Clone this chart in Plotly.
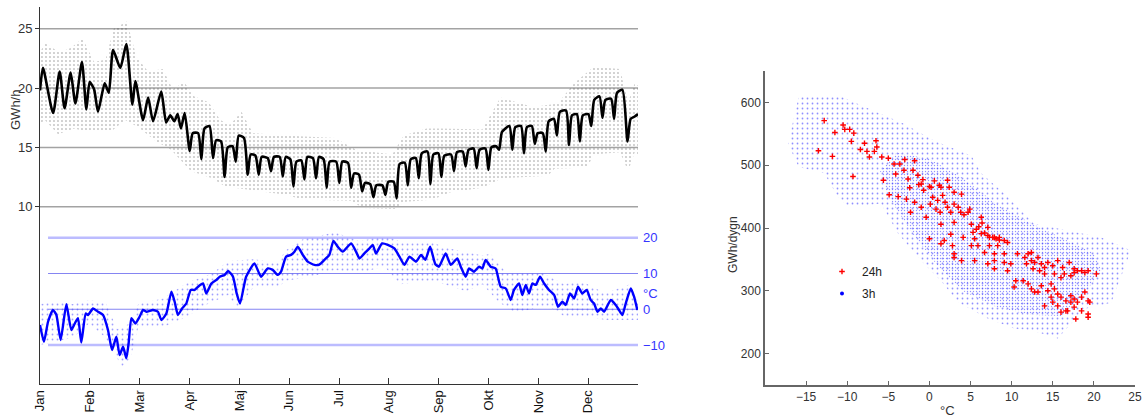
import plotly.graph_objects as go

W, H = 1142, 419
FONT = "Liberation Sans, Arial, sans-serif"

month_labels = ["Jan", "Feb", "Mar", "Apr", "Maj", "Jun", "Jul", "Aug", "Sep", "Okt", "Nov", "Dec"]

# ---- daily mean load, GWh/h (day of year, value) ----
load_day = [0, 1.8, 8, 12, 15, 18.7, 21.6, 25.6, 28.3, 30.3, 33, 35.4, 39.5, 42, 44.6, 49, 52.7,
            56.4, 58.2, 62.9, 66, 69, 74, 77, 79.5, 82, 84, 86, 88.3,
            91.4, 93.2, 96.5, 98.5, 100.4, 103.5, 105.6, 107.5, 110.5, 112.7, 114.6, 117.5,
            119.5, 121.3, 124.5, 126.8, 128.6, 131.5, 133.5, 135.3, 139, 141, 142.8, 146.3,
            148.2, 150, 152.8, 154.7, 156.5, 159.5, 161.4, 163.2, 166.6, 168.5, 170.3, 173.1,
            175, 176.8, 180.8, 182.7, 184.5, 188, 189.9, 191.7, 194.7, 196.6, 198.4, 201.6,
            203.5, 205.3, 209, 210.8, 212.6, 215.9, 217.7, 219.5, 222.7, 224.5, 226.3, 229.4,
            231.2, 233, 236.5, 238.3, 240.1, 243.2, 245, 246.8, 250.9, 252.7, 254.5, 258,
            259.8, 261.6, 264.7, 266.5, 268.3, 271.9, 273.7, 275.5, 278.4, 280.2, 282, 286.5,
            288.3, 290.1, 293.6, 295.4, 297.2, 300.2, 302, 303.8, 306.9, 308.7, 310.5, 313.7,
            315.5, 317.3, 321.1, 322.9, 324.7, 327.7, 329.5, 331.3, 334.7, 336.5, 338.3, 341.5,
            343.3, 345.1, 348.6, 350.4, 352.2, 355.5, 358.6, 360.5, 363, 365]
load_gwh = [19.8, 21.7, 17.9, 21.4, 18.3, 21.3, 18.7, 22.2, 18.2, 20.5, 19.9, 18.0, 20.4, 19.6,
            23.2, 21.7, 23.7, 18.6, 20.6, 17.3, 19.2, 17.2, 19.7, 17.1, 17.7, 17.2, 17.8, 16.6,
            17.9,
            14.7, 16.2, 16.2, 14.0, 16.6, 16.8, 14.1, 15.6, 15.5, 12.5, 15.0, 15.1,
            13.8, 16.0, 15.8, 12.7, 14.4, 14.3, 12.7, 14.2, 14.1, 13.0, 14.2, 14.2,
            12.55, 14.2, 14.0, 11.7, 13.8, 13.9, 12.3, 14.2, 14.1, 12.4, 14.2, 14.0,
            11.6, 13.8, 13.8, 12.0, 13.8, 13.7, 11.6, 12.8, 12.7, 11.3, 12.0, 11.9,
            10.8, 11.8, 11.8, 11.0, 12.1, 12.1, 10.7, 13.6, 13.7, 11.8, 14.0, 14.1,
            12.4, 14.5, 14.65, 11.9, 14.4, 14.5, 12.5, 14.3, 14.4, 13.0, 14.6, 14.65,
            13.4, 14.8, 14.9, 13.25, 14.8, 14.9, 13.1, 15.0, 15.1, 14.8, 16.3, 16.8,
            14.8, 16.7, 16.8, 14.5, 16.7, 16.8, 15.3, 16.2, 16.2, 14.65, 17.2, 17.4,
            16.0, 18.0, 18.1, 15.2, 17.7, 17.8, 15.5, 17.7, 17.8, 16.8, 19.0, 19.3,
            17.5, 19.0, 19.1, 17.4, 19.6, 19.85, 15.5, 17.4, 17.6, 17.8]

# ---- spread of hourly load values (upper / lower edge of the dot cloud) ----
load_hi_day = [0, 3, 12, 19, 26, 33, 40, 45, 53, 59, 66, 75, 81, 88, 94, 103, 110, 116, 123,
               130, 150, 180, 193, 215, 222, 236, 245, 270, 281, 301, 316, 326, 338, 354, 359,
               363, 365]
load_hi = [23.0, 23.8, 23.0, 23.4, 24.2, 22.2, 22.4, 25.0, 25.6, 22.6, 21.4, 21.6, 19.9, 20.5,
           19.3, 18.8, 17.3, 16.9, 18.0, 16.2, 16.0, 15.8, 14.8, 14.4, 16.0, 16.6, 16.6, 16.5,
           19.2, 18.4, 18.7, 20.4, 21.8, 21.6, 18.8, 20.4, 20.2]
load_lo_day = [0, 3, 11, 21, 29, 43, 52, 60, 71, 80, 92, 105, 113, 130, 150, 160, 190, 197,
               217, 222, 240, 250, 270, 282, 310, 314, 334, 338, 354, 359, 363, 365]
load_lo = [17.0, 17.3, 16.1, 16.6, 16.3, 16.3, 17.3, 16.7, 15.5, 14.8, 13.0, 12.4, 11.7, 11.4,
           11.0, 10.6, 10.5, 9.9, 9.8, 10.4, 10.6, 11.2, 11.6, 12.4, 12.6, 13.2, 13.3, 14.4,
           14.6, 13.0, 14.6, 14.4]

# ---- daily mean temperature, degC ----
temp_day = [0, 2.4, 4.9, 7.9, 10, 12.6, 16.1, 19.1, 21.2, 23.2, 25.2, 27.9, 29.3, 32.4, 35.4,
            38.5, 41.5, 44, 46.6, 48.6, 50.7, 52.7, 54.1, 55.8, 58.2, 60.8, 62.9, 64.9, 69, 72,
            74.1, 77.1, 80.2, 82.2, 84.2, 86.7, 89.3, 92, 94.4, 96.5, 99.5, 101.5, 104.6, 107.7,
            109.7, 112.7, 114.8, 117.8, 120, 122.1, 125.8, 130.9, 134.9, 139, 142, 145.1, 147.1,
            150.2, 153.2, 155.3, 157.3, 160.4, 163.4, 167.5, 170.5, 173.6, 176.6, 179.1, 181.7,
            184.8, 189.9, 192.9, 195, 198, 201.1, 203.1, 205.1, 208.8, 212.3, 216.3, 219.4,
            222.4, 225.5, 229.5, 232.6, 235.2, 238.1, 241.3, 243.5, 247.6, 250.7, 254.7, 256.8,
            259.8, 261.9, 264.9, 268, 270, 272, 275.1, 278.1, 281.2, 284.3, 287.3, 289.3, 292.4,
            294.4, 296.5, 298.5, 300.5, 302.6, 305.2, 307.7, 310.7, 313.8, 316.2, 318.8, 320.9,
            323.5, 326, 328.4, 331, 333.7, 336.1, 338.2, 340.2, 342.3, 344.3, 348.4, 351.4,
            353.4, 355.5, 357.5, 360.6, 362.6, 364.6]
temp_c = [-4.4, -9.1, -3.5, -0.2, -1.6, -8.6, 1.4, -5.8, -4.0, -2.5, -9.3, -1.2, -1.6, 0.2, -0.7,
          -1.6, -5.8, -11.4, -7.7, -12.8, -10.5, -13.7, -9.5, -2.5, -4.0, -2.1, -0.2, -0.7, -0.2,
          -0.7, -3.0, -1.2, 4.9, 2.1, -1.6, 0.2, 1.6, 5.4, 5.4, 6.3, 7.2, 4.4, 7.2, 8.2, 9.1, 9.6,
          10.7, 9.1, 4.5, 1.6, 9.1, 12.8, 9.1, 11.4, 11.0, 9.6, 10.5, 14.7, 15.2, 16.1, 17.5,
          15.2, 13.3, 12.4, 12.5, 13.8, 15.2, 19.1, 17.5, 16.1, 18.4, 16.1, 14.2, 15.6, 17.0,
          18.0, 15.6, 18.4, 18.0, 17.0, 14.7, 12.4, 14.7, 13.3, 15.2, 13.8, 17.5, 12.6, 11.9,
          15.6, 12.4, 14.2, 11.9, 9.1, 11.4, 10.5, 11.9, 11.4, 13.8, 11.9, 11.4, 6.3, 5.8, 2.6,
          5.4, 7.2, 4.0, 6.8, 4.4, 7.2, 6.8, 9.1, 7.2, 5.4, 4.0, 0.7, 2.1, 1.2, 4.4, 3.0, 6.3,
          4.4, 5.4, 2.6, 1.6, -0.7, 0.2, -0.7, 2.6, 1.2, -0.2, -1.6, 1.6, 5.8, 3.5, -0.2]

# ---- spread of 3-hourly temperatures ----
temp_hi_day = [0, 10, 20, 30, 40, 47, 55, 60, 75, 90, 105, 115, 130, 145, 150, 160, 180, 195,
               210, 220, 240, 250, 270, 275, 285, 305, 320, 330, 345, 360, 365]
temp_hi = [1.5, 2.0, 1.5, 2.5, 2.0, -5.5, -4.0, 1.5, 3.0, 7.5, 10.0, 13.5, 14.0, 13.0, 16.5,
           19.5, 21.5, 19.0, 20.5, 19.0, 18.5, 17.0, 15.0, 15.5, 10.0, 10.5, 7.0, 8.0, 4.5, 7.0,
           2.0]
temp_lo_day = [0, 10, 20, 30, 40, 50, 55, 60, 75, 90, 100, 115, 120, 130, 145, 150, 165, 180,
               195, 210, 220, 240, 260, 270, 280, 290, 310, 320, 335, 345, 355, 365]
temp_lo = [-10.0, -9.0, -8.0, -4.0, -8.0, -16.0, -14.0, -5.0, -5.0, -2.0, 1.0, 4.0, 0.0, 6.0,
           6.0, 8.0, 9.0, 11.0, 10.0, 12.0, 7.0, 8.0, 5.0, 7.0, 2.0, -1.0, 1.0, -2.0, -2.0, -3.0,
           -3.0, -3.0]

# ---- 3h values: extent of the blue cloud (degC, GWh/dygn) ----
cloud_temp = [-17.2, -16.5, -15.9, -13.0, -10.7, -6.3, -3.1, 0.6, 5.1, 6.3, 9.1, 12.7, 17.0,
              20.9, 24.5, 23.3, 22.1, 18.8, 15.6, 12.4, 10.3, 7.1, 3.45, 1.4, -1.0, -3.8, -5.9,
              -9.9, -11.1, -12.8, -15.9, -17.2]
cloud_gwh = [534, 575, 609, 611, 609, 584, 566, 539, 515, 487, 455, 407, 395, 385, 364, 321,
             281, 271, 224, 237, 240, 256, 282, 316, 348, 391, 439, 433, 449, 487, 497, 534]
core_temp = [-6.0, -4.0, 0.0, 4.0, 8.0, 12.0, 16.0, 20.0, 21.0, 19.0, 16.0, 12.0, 8.0, 4.0,
             1.0, -2.0, -5.0, -6.0]
core_gwh = [490, 520, 510, 480, 440, 410, 385, 360, 330, 300, 260, 262, 275, 300, 340, 390,
            450, 490]

# ---- 24h values (degC, GWh/dygn) ----
d24_temp = [-12.8, -13.5, -11.8, -11.5, -10.5, -10.3, -9.7, -9.2, -9.5, -9.3, -8.4, -7.9, -7.6,
            -7.3, -6.7, -6.5, -6.4, -5.8, -5.6, -5.0, -4.9, -4.3, -4.1, -3.6, -3.8, -3.1, -3.0,
            -2.8, -2.6, -2.4, -2.3, -2.0, -1.8, -1.8, -1.4, -1.3, -1.0, -0.8, -0.7, -1.0, -0.4,
            0.0, 0.2, 0.1, 0.4, 0.6, 0.8, 1.2, 1.0, 1.4, 1.3, 1.6, 1.9, 2.2, 2.2, 2.4, 2.6, 3.0,
            3.0, 3.5, 3.8, 3.9, 4.2, 4.7, 4.9, 5.1, 5.3, 5.7, 6.0, 6.3, 6.4, 6.7, 7.1, 7.3, 7.7,
            8.1, 8.5, 9.1, 2.6, 3.0, 1.4, 0.0, 1.4, 2.8, 4.1, 5.5, 6.3, 7.1, 7.9, 8.5, 5.1, 5.9,
            7.3, 8.3, 9.5, 9.1, 7.9, 6.7, 5.5, 7.1, 7.9, 9.1, 9.9, 10.7, 11.6, 12.0, 12.4, 12.8,
            13.2, 13.6, 14.0, 14.4, 15.0, 15.6, 16.2, 17.0, 17.6, 18.5, 19.3, 20.3, 7.9, 9.5,
            10.5, 11.4, 10.3, 12.0, 12.4, 13.2, 13.6, 14.4, 14.8, 15.2, 15.6, 16.0, 16.6, 17.2,
            17.6, 18.0, 18.5, 18.9, 19.3, 19.5, 19.3, 19.3, 17.8, 16.8, 16.0, 15.6, 15.0, 14.0,
            12.8, 12.4, 11.8, 12.6, 13.4, 14.0, 15.2, 16.0, 16.4, 17.2, 17.6, 18.0, 18.9, 14.8,
            17.2, 17.6, 16.6, 18.5, 3.9, 3.0, 1.8, 3.0]
d24_gwh = [571, 523, 514, 552, 564, 557, 557, 551, 538, 482, 525, 535, 522, 513, 522, 539, 529,
           513, 476, 511, 453, 502, 486, 502, 450, 492, 509, 446, 478, 464, 425, 492, 507, 441,
           484, 469, 470, 477, 460, 433, 417, 466, 465, 438, 449, 475, 430, 468, 444, 465, 425,
           452, 441, 476, 433, 465, 425, 457, 438, 433, 425, 454, 421, 425, 430, 406, 393, 398,
           402, 417, 408, 392, 401, 385, 385, 383, 381, 380, 390, 409, 406, 383, 375, 372, 385,
           383, 391, 388, 385, 385, 372, 372, 372, 372, 377, 359, 359, 361, 348, 343, 348, 345,
           343, 359, 353, 359, 361, 345, 353, 343, 337, 345, 340, 348, 337, 345, 329, 332, 332,
           327, 335, 332, 316, 316, 306, 311, 303, 298, 308, 300, 311, 303, 295, 290, 284, 292,
           287, 282, 290, 298, 284, 282, 263, 258, 255, 268, 266, 276, 282, 276, 298, 348, 343,
           335, 332, 327, 327, 321, 327, 324, 335, 332, 329, 290, 282, 274, 268, 268, 348, 353,
           380, 359]

# ---------------------------------------------------------------------------
fig = go.Figure()

# hourly load cloud
fig.add_trace(go.Scatter(x=load_hi_day, y=load_hi, mode="lines", line=dict(width=0),
                         xaxis="x", yaxis="y", showlegend=False, hoverinfo="skip"))
fig.add_trace(go.Scatter(x=load_lo_day, y=load_lo, mode="lines", line=dict(width=0),
                         fill="tonexty", fillcolor="rgba(0,0,0,0)",
                         fillpattern=dict(shape=".", size=4, solidity=0.12, fgcolor="#2a2a2a",
                                          bgcolor="rgba(0,0,0,0)"),
                         xaxis="x", yaxis="y", showlegend=False, hoverinfo="skip"))
fig.add_trace(go.Scatter(x=load_day, y=load_gwh, mode="lines",
                         line=dict(color="black", width=2.6, shape="spline", smoothing=0.6),
                         xaxis="x", yaxis="y", showlegend=False))

# 3h temperature cloud
fig.add_trace(go.Scatter(x=temp_hi_day, y=temp_hi, mode="lines", line=dict(width=0),
                         xaxis="x", yaxis="y2", showlegend=False, hoverinfo="skip"))
fig.add_trace(go.Scatter(x=temp_lo_day, y=temp_lo, mode="lines", line=dict(width=0),
                         fill="tonexty", fillcolor="rgba(0,0,0,0)",
                         fillpattern=dict(shape=".", size=5, solidity=0.1, fgcolor="#4040ff",
                                          bgcolor="rgba(0,0,0,0)"),
                         xaxis="x", yaxis="y2", showlegend=False, hoverinfo="skip"))
fig.add_trace(go.Scatter(x=temp_day, y=temp_c, mode="lines",
                         line=dict(color="#0000ff", width=2.4, shape="spline", smoothing=0.5),
                         xaxis="x", yaxis="y2", showlegend=False))

# right scatter: 3h cloud
fig.add_trace(go.Scatter(x=cloud_temp, y=cloud_gwh, mode="lines", line=dict(width=0),
                         fill="toself", fillcolor="rgba(0,0,0,0)",
                         fillpattern=dict(shape=".", size=5, solidity=0.1, fgcolor="#2020ff",
                                          bgcolor="rgba(0,0,0,0)"),
                         xaxis="x2", yaxis="y3", showlegend=False, hoverinfo="skip"))
fig.add_trace(go.Scatter(x=core_temp, y=core_gwh, mode="lines", line=dict(width=0),
                         fill="toself", fillcolor="rgba(0,0,0,0)",
                         fillpattern=dict(shape=".", size=3, solidity=0.17, fgcolor="#2828ff",
                                          bgcolor="rgba(0,0,0,0)"),
                         xaxis="x2", yaxis="y3", showlegend=False, hoverinfo="skip"))
# 24h points
fig.add_trace(go.Scatter(x=d24_temp, y=d24_gwh, mode="markers", name="24h",
                         marker=dict(symbol="cross-thin", size=4, color="#ff0000",
                                     line=dict(width=1.4, color="#ff0000")),
                         xaxis="x2", yaxis="y3", legendgroup="a", legendrank=1))
# legend entry for the 3h cloud
fig.add_trace(go.Scatter(x=[None], y=[None], mode="markers", name="3h",
                         marker=dict(symbol="circle", size=4, color="#0000ff"),
                         xaxis="x2", yaxis="y3", legendgroup="b", legendrank=2))

# gridlines
shapes = []
for v in [10, 15, 20, 25]:
    shapes.append(dict(type="line", xref="x", yref="y", x0=0, x1=365, y0=v, y1=v,
                       line=dict(color="#a3a3a3", width=1.5), layer="below"))
for v, col, wd in [(20, "#bcbcff", 2.5), (10, "#8585f2", 1.2), (0, "#8585f2", 1.2),
                   (-10, "#bcbcff", 2.5)]:
    shapes.append(dict(type="line", xref="x", yref="y2", x0=4.9, x1=365, y0=v, y1=v,
                       line=dict(color=col, width=wd), layer="below"))

ann = [
    dict(text="GWh/h", xref="paper", yref="paper", x=15 / W, y=(H - 110) / H, textangle=-90,
         xanchor="center", yanchor="middle",
         showarrow=False, font=dict(size=13, color="#333333", family=FONT)),
    dict(text="°C", xref="paper", yref="paper", x=651 / W, y=(H - 293) / H,
         xanchor="center", yanchor="middle",
         showarrow=False, font=dict(size=13, color="#3535ff", family=FONT)),
    dict(text="GWh/dygn", xref="paper", yref="paper", x=733 / W, y=(H - 245) / H,
         xanchor="center", yanchor="middle",
         textangle=-90, showarrow=False, font=dict(size=12, color="#333333", family=FONT)),
    dict(text="°C", xref="paper", yref="paper", x=947 / W, y=(H - 410) / H,
         xanchor="center", yanchor="middle",
         showarrow=False, font=dict(size=13, color="#333333", family=FONT)),
]

fig.update_layout(
    width=W, height=H, margin=dict(l=0, r=0, t=0, b=0),
    paper_bgcolor="white", plot_bgcolor="rgba(0,0,0,0)",
    font=dict(family=FONT, size=13, color="#333333"),
    shapes=shapes, annotations=ann,
    xaxis=dict(domain=[40 / W, 638 / W], range=[0, 365], anchor="y",
               tickvals=[i * 365 / 12 for i in range(12)], ticktext=month_labels,
               tickangle=-90, ticks="inside", ticklen=6, tickcolor="#333333",
               showline=True, linecolor="#333333", linewidth=1, showgrid=False,
               zeroline=False, automargin=False, tickfont=dict(size=13, color="#111111")),
    yaxis=dict(domain=[35 / H, 412 / H], range=[-4.94, 26.83], anchor="x",
               tickvals=[10, 15, 20, 25], ticks="outside", ticklen=4, tickcolor="#333333",
               showline=True, linecolor="#333333", linewidth=1, showgrid=False,
               zeroline=False, automargin=False, tickfont=dict(size=13, color="#333333")),
    yaxis2=dict(overlaying="y", side="right", anchor="x", range=[-20.9, 84.5],
                tickvals=[-10, 0, 10, 20], ticks="", showline=False, showgrid=False,
                zeroline=False, automargin=False, ticklabelstandoff=4,
                tickfont=dict(size=13, color="#3535ff")),
    xaxis2=dict(domain=[765 / W, 1135 / W], range=[-20, 25], anchor="y3",
                tickvals=[-15, -10, -5, 0, 5, 10, 15, 20, 25], ticks="inside", ticklen=4,
                tickcolor="#666666", showline=True, linecolor="#666666", linewidth=1.5,
                showgrid=False, zeroline=False, automargin=False,
                tickfont=dict(size=12, color="#333333")),
    yaxis3=dict(domain=[34 / H, 348 / H], range=[150, 650], anchor="x2",
                tickvals=[200, 300, 400, 500, 600], ticks="inside", ticklen=4,
                tickcolor="#666666", showline=True, linecolor="#666666", linewidth=1.5,
                showgrid=False, zeroline=False, automargin=False,
                tickfont=dict(size=12, color="#333333")),
    legend=dict(x=822 / W, y=(H - 257) / H, xanchor="left", yanchor="top",
                bgcolor="rgba(0,0,0,0)", font=dict(size=12, color="#222222", family=FONT),
                traceorder="grouped", tracegroupgap=3),
    showlegend=True,
)

fig.write_html("out.html", config={"displayModeBar": False},
               post_script="document.body.style.margin='0px';"
                           "document.body.style.overflow='hidden';")
